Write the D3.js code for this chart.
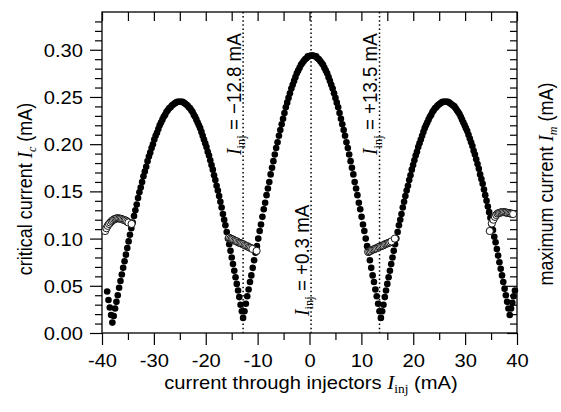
<!doctype html>
<html>
<head>
	<meta charset='utf-8'/>
	<script src="https://d3js.org/d3.v7.min.js"></script>
	<style>
		body { margin: 0; background: #fff; }
		text { font-family: "Liberation Sans", Arial, sans-serif; }
	</style>
</head>
<body>
	<script>
		// tick values
		var xMajorTicks = [-40, -30, -20, -10, 0, 10, 20, 30, 40];
		var xMinorTicks = [-35, -25, -15, -5, 5, 15, 25, 35];
		var xTopTicks = [-40, -35, -30, -25, -20, -15, -10, -5, 0, 5, 10, 15, 20, 25, 30, 35, 40];
		var yMajorTicks = [0, 0.05, 0.10, 0.15, 0.20, 0.25, 0.30];
		var yMinorTicks = [0.01, 0.02, 0.03, 0.04, 0.06, 0.07, 0.08, 0.09, 0.11, 0.12, 0.13, 0.14,
			0.16, 0.17, 0.18, 0.19, 0.21, 0.22, 0.23, 0.24, 0.26, 0.27, 0.28, 0.29, 0.31, 0.32, 0.33];

		// injector currents marked by dotted lines
		var injValues = [-12.8, 0.3, 13.5];
		var injLabels = ["\u221212.8 mA", "+0.3 mA", "+13.5 mA"];

		// critical current Ic (filled dots), [I_inj, Ic]
		var icEdgeLeft = [[-39.00,0.044],[-38.75,0.035],[-38.50,0.027],[-38.25,0.019]];
		var icArchLeft = [[-38.00,0.011],[-37.74,0.018],[-37.48,0.026],[-37.22,0.033],[-36.96,0.040],[-36.70,0.048],[-36.44,0.055],[-36.18,0.062],[-35.92,0.069],[-35.65,0.076],[-35.39,0.083],[-35.13,0.090],[-34.87,0.097],[-34.61,0.104],[-34.35,0.111],[-34.09,0.117],[-33.83,0.124],[-33.57,0.130],[-33.31,0.136],[-33.05,0.143],[-32.79,0.149],[-32.53,0.154],[-32.27,0.160],[-32.01,0.166],[-31.75,0.171],[-31.48,0.176],[-31.22,0.182],[-30.96,0.187],[-30.70,0.191],[-30.44,0.196],[-30.18,0.200],[-29.92,0.205],[-29.66,0.209],[-29.40,0.212],[-29.14,0.216],[-28.88,0.220],[-28.62,0.223],[-28.36,0.226],[-28.10,0.229],[-27.84,0.231],[-27.58,0.234],[-27.32,0.236],[-27.05,0.238],[-26.79,0.239],[-26.53,0.241],[-26.27,0.242],[-26.01,0.243],[-25.75,0.244],[-25.49,0.245],[-25.23,0.245],[-24.97,0.245],
			[-24.73,0.245],[-24.48,0.245],[-24.24,0.244],[-24.00,0.243],[-23.75,0.242],[-23.51,0.241],[-23.27,0.239],[-23.02,0.238],[-22.78,0.236],[-22.54,0.234],[-22.29,0.231],[-22.05,0.229],[-21.81,0.226],[-21.56,0.223],[-21.32,0.220],[-21.08,0.217],[-20.83,0.213],[-20.59,0.209],[-20.35,0.205],[-20.10,0.201],[-19.86,0.197],[-19.62,0.192],[-19.37,0.188],[-19.13,0.183],[-18.89,0.178],[-18.64,0.173],[-18.40,0.167],[-18.15,0.162],[-17.91,0.156],[-17.67,0.151],[-17.42,0.145],[-17.18,0.139],[-16.94,0.133],[-16.69,0.126],[-16.45,0.120],[-16.21,0.114],[-15.96,0.107],[-15.72,0.100],[-15.48,0.094],[-15.23,0.087],[-14.99,0.080],[-14.75,0.073],[-14.50,0.066],[-14.26,0.059],[-14.02,0.052],[-13.77,0.045],[-13.53,0.038],[-13.29,0.030],[-13.04,0.023],[-12.80,0.016]];
		var icArchCentre = [[-12.53,0.023],[-12.27,0.031],[-12.00,0.039],[-11.74,0.046],[-11.47,0.054],[-11.21,0.061],[-10.94,0.069],[-10.68,0.077],[-10.41,0.085],[-10.14,0.092],[-9.88,0.100],[-9.61,0.108],[-9.35,0.115],[-9.08,0.123],[-8.82,0.131],[-8.55,0.138],[-8.28,0.146],[-8.02,0.153],[-7.75,0.160],[-7.49,0.168],[-7.22,0.175],[-6.96,0.182],[-6.69,0.189],[-6.43,0.196],[-6.16,0.202],[-5.89,0.209],[-5.63,0.215],[-5.36,0.221],[-5.10,0.227],[-4.83,0.233],[-4.57,0.239],[-4.30,0.244],[-4.04,0.249],[-3.77,0.254],[-3.50,0.259],[-3.24,0.263],[-2.97,0.267],[-2.71,0.271],[-2.44,0.275],[-2.18,0.278],[-1.91,0.281],[-1.64,0.284],[-1.38,0.286],[-1.11,0.288],[-0.85,0.290],[-0.58,0.291],[-0.32,0.293],[-0.05,0.293],[0.21,0.294],[0.48,0.294],
			[0.75,0.294],[1.01,0.293],[1.28,0.293],[1.54,0.291],[1.81,0.290],[2.07,0.288],[2.34,0.286],[2.60,0.284],[2.87,0.281],[3.14,0.278],[3.40,0.275],[3.67,0.271],[3.93,0.267],[4.20,0.263],[4.46,0.259],[4.73,0.254],[5.00,0.249],[5.26,0.244],[5.53,0.239],[5.79,0.233],[6.06,0.227],[6.32,0.221],[6.59,0.215],[6.85,0.209],[7.12,0.202],[7.39,0.196],[7.65,0.189],[7.92,0.182],[8.18,0.175],[8.45,0.168],[8.71,0.160],[8.98,0.153],[9.24,0.146],[9.51,0.138],[9.78,0.131],[10.04,0.123],[10.31,0.115],[10.57,0.108],[10.84,0.100],[11.10,0.092],[11.37,0.085],[11.64,0.077],[11.90,0.069],[12.17,0.061],[12.43,0.054],[12.70,0.046],[12.96,0.039],[13.23,0.031],[13.49,0.023],[13.76,0.016]];
		var icArchRight = [[14.01,0.023],[14.26,0.030],[14.51,0.038],[14.75,0.045],[15.00,0.052],[15.25,0.059],[15.50,0.066],[15.75,0.073],[16.00,0.080],[16.24,0.087],[16.49,0.094],[16.74,0.100],[16.99,0.107],[17.24,0.114],[17.49,0.120],[17.73,0.126],[17.98,0.133],[18.23,0.139],[18.48,0.145],[18.73,0.151],[18.98,0.156],[19.22,0.162],[19.47,0.167],[19.72,0.173],[19.97,0.178],[20.22,0.183],[20.47,0.188],[20.72,0.192],[20.96,0.197],[21.21,0.201],[21.46,0.205],[21.71,0.209],[21.96,0.213],[22.21,0.217],[22.45,0.220],[22.70,0.223],[22.95,0.226],[23.20,0.229],[23.45,0.231],[23.70,0.234],[23.94,0.236],[24.19,0.238],[24.44,0.239],[24.69,0.241],[24.94,0.242],[25.19,0.243],[25.43,0.244],[25.68,0.245],[25.93,0.245],[26.18,0.245],
			[26.43,0.245],[26.68,0.245],[26.93,0.244],[27.17,0.243],[27.42,0.242],[27.67,0.241],[27.92,0.240],[28.17,0.238],[28.42,0.236],[28.66,0.234],[28.91,0.232],[29.16,0.229],[29.41,0.226],[29.66,0.223],[29.91,0.220],[30.15,0.217],[30.40,0.214],[30.65,0.210],[30.90,0.206],[31.15,0.202],[31.40,0.198],[31.64,0.193],[31.89,0.189],[32.14,0.184],[32.39,0.179],[32.64,0.174],[32.89,0.168],[33.14,0.163],[33.38,0.158],[33.63,0.152],[33.88,0.146],[34.13,0.140],[34.38,0.134],[34.63,0.128],[34.87,0.122],[35.12,0.115],[35.37,0.109],[35.62,0.102],[35.87,0.096],[36.12,0.089],[36.36,0.082],[36.61,0.075],[36.86,0.068],[37.11,0.061],[37.36,0.054],[37.61,0.047],[37.85,0.040],[38.10,0.033],[38.35,0.026],[38.60,0.019]];
		var icEdgeRight = [[38.85,0.026],[39.10,0.032],[39.35,0.039],[39.60,0.045]];

		// maximum current Im (open circles), [I_inj, Im]
		var imLeft = [[-39.40,0.108],[-39.15,0.111],[-38.90,0.1135],[-38.65,0.1155],[-38.40,0.117],[-38.15,0.1185],[-37.90,0.1195],[-37.65,0.1205],[-37.40,0.121],[-37.15,0.1215],[-36.90,0.1215],[-36.65,0.1212],[-36.40,0.121],[-36.15,0.1205],[-35.90,0.120],[-35.65,0.1195],[-35.40,0.119],[-35.15,0.118],[-34.90,0.117],[-34.30,0.1155]];
		var imMidLeft = [[-15.50,0.101],[-15.25,0.100],[-15.00,0.0995],[-14.75,0.099],[-14.50,0.098],[-14.25,0.0975],[-14.00,0.097],[-13.75,0.096],[-13.50,0.0955],[-13.25,0.095],[-13.00,0.0945],[-12.75,0.094],[-12.50,0.093],[-12.25,0.0925],[-12.00,0.092],[-11.75,0.091],[-11.50,0.0905],[-11.25,0.090],[-11.00,0.089],[-10.20,0.087]];
		var imMidRight = [[11.30,0.086],[11.55,0.0865],[11.80,0.087],[12.05,0.088],[12.30,0.0885],[12.55,0.089],[12.80,0.0895],[13.05,0.090],[13.30,0.091],[13.55,0.0915],[13.80,0.092],[14.05,0.0925],[14.30,0.093],[14.55,0.094],[14.80,0.0945],[15.05,0.095],[15.30,0.0955],[15.55,0.096],[15.80,0.097],[16.45,0.100]];
		var imRight = [[34.75,0.108],[35.15,0.116],[35.45,0.120],[35.75,0.123],[36.00,0.125],[36.25,0.1265],[36.50,0.127],[36.75,0.1275],[37.00,0.128],[37.25,0.128],[37.50,0.128],[37.75,0.1278],[38.00,0.1275],[38.25,0.127],[38.50,0.127],[38.75,0.1265],[39.00,0.1265],[39.25,0.126]];

		var width = 561,
			height = 412;
		var plotLeft = 102, plotRight = 517, plotTop = 12, plotBottom = 333;
		var fontSize = 18, stretch = 1.12;

		var svg = d3.select("body").append("svg")
			.attr("width", width)
			.attr("height", height)
			.style("background-color", "#fff");

		var x = d3.scaleLinear().domain([-40, 40]).range([plotLeft, plotRight]);
		var y = d3.scaleLinear().domain([0, 0.34]).range([plotBottom, plotTop]);

		function tidy(g) {
			g.select(".domain").remove();
			g.selectAll("line").attr("stroke", "#000").attr("stroke-width", 1.2);
			g.selectAll("text").attr("font-family", "'Liberation Sans', Arial, sans-serif")
				.attr("font-size", fontSize).attr("fill", "#000");
		}

		// bottom axis
		svg.append("g").attr("transform", "translate(0," + plotBottom + ")")
			.call(d3.axisBottom(x).tickValues(xMajorTicks).tickSize(12).tickPadding(8)
				.tickFormat(function(d) { return String(d); }))
			.call(tidy)
			.selectAll("text")
			.attr("dy", null).attr("y", 34)
			.attr("transform", "scale(" + stretch + ",1)");
		svg.append("g").attr("transform", "translate(0," + plotBottom + ")")
			.call(d3.axisBottom(x).tickValues(xMinorTicks).tickSize(7).tickFormat(""))
			.call(tidy);
		// top axis, ticks inward
		svg.append("g").attr("transform", "translate(0," + plotTop + ")")
			.call(d3.axisBottom(x).tickValues(xTopTicks).tickSize(9).tickFormat(""))
			.call(tidy);

		// left axis
		svg.append("g").attr("transform", "translate(" + plotLeft + ",0)")
			.call(d3.axisLeft(y).tickValues(yMajorTicks).tickSize(12).tickPadding(8)
				.tickFormat(d3.format(".2f")))
			.call(tidy)
			.selectAll("text")
			.attr("x", -19 / stretch).attr("dy", "0.36em")
			.attr("transform", "scale(" + stretch + ",1)");
		svg.append("g").attr("transform", "translate(" + plotLeft + ",0)")
			.call(d3.axisLeft(y).tickValues(yMinorTicks).tickSize(7).tickFormat(""))
			.call(tidy);
		// right axis, ticks inward
		svg.append("g").attr("transform", "translate(" + plotRight + ",0)")
			.call(d3.axisLeft(y).tickValues(yMajorTicks).tickSize(10).tickFormat(""))
			.call(tidy);
		svg.append("g").attr("transform", "translate(" + plotRight + ",0)")
			.call(d3.axisLeft(y).tickValues(yMinorTicks).tickSize(7).tickFormat(""))
			.call(tidy);

		// frame
		svg.append("rect")
			.attr("x", plotLeft).attr("y", plotTop)
			.attr("width", plotRight - plotLeft).attr("height", plotBottom - plotTop)
			.attr("fill", "none").attr("stroke", "#000").attr("stroke-width", 1.3);

		// dotted lines at the injector currents
		svg.selectAll("line.inj")
			.data(injValues)
			.join("line")
			.attr("class", "inj")
			.attr("x1", function(d) { return x(d); })
			.attr("x2", function(d) { return x(d); })
			.attr("y1", y(0.34))
			.attr("y2", y(0))
			.attr("stroke", "#000")
			.attr("stroke-width", 1.5)
			.attr("stroke-dasharray", "1.5,2.6");

		// Ic, filled dots
		var icAll = icEdgeLeft.concat(icArchLeft, icArchCentre, icArchRight, icEdgeRight);
		svg.append("g").selectAll("circle")
			.data(icAll)
			.join("circle")
			.attr("cx", function(d) { return x(d[0]); })
			.attr("cy", function(d) { return y(d[1]); })
			.attr("r", 3.3)
			.attr("fill", "#000");

		// Im, open circles
		[imLeft, imMidLeft, imMidRight, imRight].forEach(function(series) {
			svg.append("g").selectAll("circle")
				.data(series)
				.join("circle")
				.attr("cx", function(d) { return x(d[0]); })
				.attr("cy", function(d) { return y(d[1]); })
				.attr("r", 3.6)
				.attr("fill", "#fff")
				.attr("stroke", "#000")
				.attr("stroke-width", 0.9);
		});

		var serif = "'Liberation Serif', 'Times New Roman', serif";

		// a text with an italic I and a subscript, e.g. "I_inj"
		function symbolText(g, before, sub, subItalic, after) {
			var t = g.append("text").attr("font-size", fontSize);
			if (before) t.append("tspan").text(before);
			t.append("tspan").attr("font-family", serif).attr("font-style", "italic")
				.attr("font-size", fontSize + 1).text("I");
			t.append("tspan").attr("font-family", serif)
				.attr("font-style", subItalic ? "italic" : "normal")
				.attr("font-size", 12).attr("dy", 4).text(sub);
			t.append("tspan").attr("dy", -4).text(after);
			return t;
		}

		// annotation labels, rotated, starting from the bottom
		var labelBottoms = [155, 316, 155];
		injValues.forEach(function(v, i) {
			var g = svg.append("g")
				.attr("transform", "translate(" + (x(v) - 2.5) + "," + labelBottoms[i] + ") rotate(-90) scale(1.04," + stretch + ")");
			symbolText(g, "", "inj", false, " = " + injLabels[i]).attr("text-anchor", "start");
		});

		// x title
		var gx = svg.append("g").attr("transform", "translate(311,389) scale(" + stretch + ",1)");
		symbolText(gx, "current through injectors ", "inj", false, " (mA)").attr("text-anchor", "middle");

		// left title
		var gl = svg.append("g").attr("transform", "translate(32,189) rotate(-90) scale(1," + stretch + ")");
		symbolText(gl, "critical current ", "c", true, " (mA)").attr("text-anchor", "middle");

		// right title
		var gr = svg.append("g").attr("transform", "translate(553,184) rotate(-90) scale(1," + stretch + ")");
		symbolText(gr, "maximum current ", "m", true, " (mA)").attr("text-anchor", "middle");
	</script>
</body>
</html>
